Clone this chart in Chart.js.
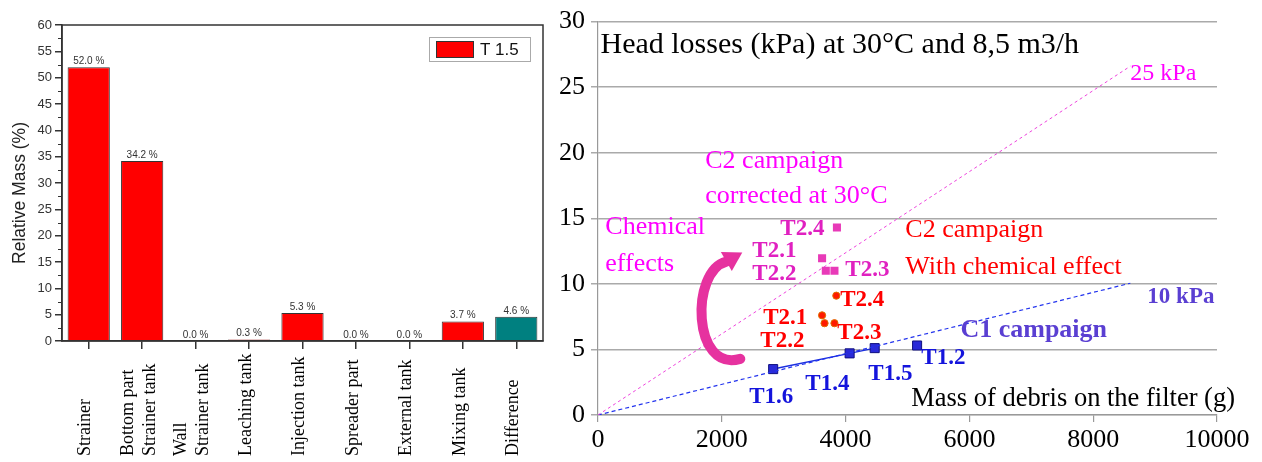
<!DOCTYPE html>
<html>
<head>
<meta charset="utf-8">
<script src="https://cdn.jsdelivr.net/npm/chart.js"></script>
<style>
  html, body { margin: 0; padding: 0; background: #fff; }
  #wrap { position: relative; width: 1262px; height: 462px; overflow: hidden; }
  #left { position: absolute; left: 0; top: 0; }
  #right { position: absolute; left: 550px; top: 0; }
</style>
</head>
<body>
<div id="wrap">
  <canvas id="left" width="550" height="462"></canvas>
  <canvas id="right" width="712" height="462"></canvas>
</div>
<script>
// --- données du panneau de gauche (masse relative par zone) ---
const categories = ['Strainer', ['Bottom part', 'Strainer tank'], ['Wall', 'Strainer tank'], 'Leaching tank',
  'Injection tank', 'Spreader part', 'External tank', 'Mixing tank', 'Difference'];
const relativeMass = [52.0, 34.2, 0.0, 0.3, 5.3, 0.0, 0.0, 3.7, 4.6];
const massTicks = [0, 5, 10, 15, 20, 25, 30, 35, 40, 45, 50, 55, 60];

// --- données du panneau de droite (pertes de charge vs masse de débris) ---
const c1Names = ['T1.6', 'T1.4', 'T1.5', 'T1.2'];
const c1Mass = [2830, 4065, 4470, 5155];
const c1Head = [3.5, 4.7, 5.1, 5.3];

const c2Names = ['T2.1', 'T2.2', 'T2.3', 'T2.4'];
const c2Mass = [3620, 3660, 3820, 3850];
const c2Head = [7.6, 7.0, 7.0, 9.1];

const c2CorrMass = [3620, 3680, 3820, 3860];
const c2CorrHead = [11.95, 11.0, 11.0, 14.3];

const refMass = [0, 8600];
const ref25Head = [0, 26.6];
const ref10Head = [0, 10.05];

const headTicks = [0, 5, 10, 15, 20, 25, 30];
const debrisTicks = [0, 2000, 4000, 6000, 8000, 10000];

const toPoints = (xs, ys) => xs.map((x, i) => ({ x: x, y: ys[i] }));

const SERIF = '"Liberation Serif", "Times New Roman", serif';
const SANS = '"Liberation Sans", Arial, sans-serif';

// ---------- panneau de gauche ----------
const leftDecor = {
  id: 'leftDecor',
  afterDatasetsDraw(chart) {
    const { ctx, chartArea: a, scales: { x, y } } = chart;
    ctx.save();
    ctx.strokeStyle = '#333';
    ctx.lineWidth = 1.5;
    ctx.strokeRect(a.left, a.top, a.right - a.left, a.bottom - a.top);

    // petites graduations
    ctx.lineWidth = 1;
    for (let v = 2.5; v < 60; v += 5) {
      const py = Math.round(y.getPixelForValue(v)) + 0.5;
      ctx.beginPath();
      ctx.moveTo(a.left - 4, py);
      ctx.lineTo(a.left, py);
      ctx.stroke();
    }

    // valeurs au-dessus des barres
    ctx.font = '10px ' + SANS;
    ctx.fillStyle = '#333';
    ctx.textAlign = 'center';
    ctx.textBaseline = 'bottom';
    chart.getDatasetMeta(0).data.forEach((bar, i) => {
      ctx.fillText(relativeMass[i].toFixed(1) + ' %', bar.x, bar.y - 1);
    });

    // étiquettes de catégories, verticales, alignées en bas
    ctx.font = '18px ' + SERIF;
    ctx.fillStyle = '#000';
    ctx.textAlign = 'left';
    ctx.textBaseline = 'middle';
    categories.forEach((lab, i) => {
      const lines = Array.isArray(lab) ? lab : [lab];
      const cx = x.getPixelForValue(i) - 3;
      lines.forEach((ln, k) => {
        const lx = cx + (k - (lines.length - 1) / 2) * 22;
        ctx.save();
        ctx.translate(lx, 456);
        ctx.rotate(-Math.PI / 2);
        ctx.fillText(ln, 0, 0);
        ctx.restore();
      });
    });

    // titre de l'axe y
    ctx.save();
    ctx.font = '17.5px ' + SANS;
    ctx.fillStyle = '#222';
    ctx.textAlign = 'center';
    ctx.translate(20, 193);
    ctx.rotate(-Math.PI / 2);
    ctx.fillText('Relative Mass (%)', 0, 0);
    ctx.restore();

    // légende
    const ds = chart.data.datasets[0];
    const lx = a.right - 114, ly = a.top + 12;
    ctx.strokeStyle = '#aaa';
    ctx.lineWidth = 1;
    ctx.strokeRect(lx + 0.5, ly + 0.5, 101, 24);
    ctx.fillStyle = ds.backgroundColor[0];
    ctx.fillRect(lx + 7, ly + 4, 38, 17);
    ctx.strokeStyle = '#333';
    ctx.strokeRect(lx + 7.5, ly + 4.5, 37, 16);
    ctx.fillStyle = '#111';
    ctx.font = '17px ' + SANS;
    ctx.textAlign = 'left';
    ctx.textBaseline = 'middle';
    ctx.fillText(ds.label, lx + 51, ly + 13);
    ctx.restore();
  }
};

new Chart(document.getElementById('left'), {
  type: 'bar',
  data: {
    labels: categories,
    datasets: [{
      label: 'T 1.5',
      data: relativeMass,
      backgroundColor: relativeMass.map((v, i) => i === relativeMass.length - 1 ? '#008080' : '#ff0000'),
      borderColor: '#333',
      borderWidth: 1,
      barPercentage: 0.79,
      categoryPercentage: 1
    }]
  },
  options: {
    responsive: false,
    animation: false,
    layout: { padding: { top: 25, right: 7, left: 0, bottom: 0 } },
    plugins: { legend: { display: false }, tooltip: { enabled: false } },
    scales: {
      x: {
        grid: { display: true, offset: false, drawOnChartArea: false, tickLength: 8, color: '#333', lineWidth: 1.5 },
        border: { color: '#333', width: 1.5 },
        ticks: { display: false },
        afterFit(scale) { scale.height = 121; }
      },
      y: {
        min: 0, max: 60,
        afterBuildTicks(scale) { scale.ticks = massTicks.map(v => ({ value: v })); },
        grid: { display: true, drawOnChartArea: false, tickLength: 7, color: '#333', lineWidth: 1.5 },
        border: { color: '#333', width: 1.5 },
        ticks: { color: '#333', padding: 3, font: { family: SANS, size: 13 } },
        afterFit(scale) { scale.width = 62; }
      }
    }
  },
  plugins: [leftDecor]
});

// ---------- panneau de droite ----------
const MAG = '#ff00ff', PINK = '#e020c0', RED = '#ff0000', BLUE = '#1414dc', VIOLET = '#5a3fd2';

// textes placés en coordonnées de données (masse g, perte kPa)
const notes = [
  { t: 'Head losses (kPa) at 30°C and 8,5 m3/h', x: 40, y: 28.2, c: '#000', f: '30px ' + SERIF },
  { t: 'Mass of debris on the filter (g)', x: 5060, y: 1.2, c: '#000', f: '26.5px ' + SERIF },
  { t: '25 kPa', x: 8600, y: 26.0, c: MAG, f: '24px ' + SERIF },
  { t: '10 kPa', x: 8875, y: 9.0, c: VIOLET, f: 'bold 23px ' + SERIF },
  { t: 'C1 campaign', x: 5855, y: 6.45, c: VIOLET, f: 'bold 26px ' + SERIF },
  { t: 'C2 campaign', x: 4965, y: 14.1, c: RED, f: '26px ' + SERIF },
  { t: 'With chemical effect', x: 4965, y: 11.25, c: RED, f: '26px ' + SERIF },
  { t: 'C2 campaign', x: 1733, y: 19.35, c: MAG, f: '26px ' + SERIF },
  { t: 'corrected at 30°C', x: 1733, y: 16.65, c: MAG, f: '26px ' + SERIF },
  { t: 'Chemical', x: 118, y: 14.33, c: MAG, f: '26px ' + SERIF },
  { t: 'effects', x: 118, y: 11.48, c: MAG, f: '26px ' + SERIF },
  { t: 'T2.4', x: 2945, y: 14.18, c: PINK, f: 'bold 23px ' + SERIF },
  { t: 'T2.1', x: 2493, y: 12.53, c: PINK, f: 'bold 23px ' + SERIF },
  { t: 'T2.2', x: 2493, y: 10.73, c: PINK, f: 'bold 23px ' + SERIF },
  { t: 'T2.3', x: 3995, y: 11.03, c: PINK, f: 'bold 23px ' + SERIF },
  { t: 'T2.4', x: 3914, y: 8.78, c: RED, f: 'bold 23px ' + SERIF },
  { t: 'T2.1', x: 2670, y: 7.43, c: RED, f: 'bold 23px ' + SERIF },
  { t: 'T2.2', x: 2622, y: 5.63, c: RED, f: 'bold 23px ' + SERIF },
  { t: 'T2.3', x: 3866, y: 6.23, c: RED, f: 'bold 23px ' + SERIF },
  { t: 'T1.6', x: 2444, y: 1.35, c: BLUE, f: 'bold 23px ' + SERIF },
  { t: 'T1.4', x: 3349, y: 2.33, c: BLUE, f: 'bold 23px ' + SERIF },
  { t: 'T1.5', x: 4367, y: 3.15, c: BLUE, f: 'bold 23px ' + SERIF },
  { t: 'T1.2', x: 5223, y: 4.35, c: BLUE, f: 'bold 23px ' + SERIF }
];

// flèche "effets chimiques" (bézier en coordonnées de données)
const arrowPath = { p0: [2299, 4.28], c1: [1523, 3.2], c2: [1491, 11.0], p3: [2073, 11.7], tip: [2331, 12.4] };

const rightDecor = {
  id: 'rightDecor',
  afterDatasetsDraw(chart) {
    const { ctx, scales: { x, y } } = chart;
    const P = p => [x.getPixelForValue(p[0]), y.getPixelForValue(p[1])];
    ctx.save();

    // flèche
    const p0 = P(arrowPath.p0), c1 = P(arrowPath.c1), c2 = P(arrowPath.c2), p3 = P(arrowPath.p3), tip = P(arrowPath.tip);
    ctx.strokeStyle = '#e6329f';
    ctx.fillStyle = '#e6329f';
    ctx.lineCap = 'round';
    ctx.lineWidth = 10;
    ctx.beginPath();
    ctx.moveTo(p0[0], p0[1]);
    ctx.bezierCurveTo(c1[0], c1[1], c2[0], c2[1], p3[0], p3[1]);
    ctx.stroke();
    const dx = tip[0] - p3[0], dy = tip[1] - p3[1], len = Math.hypot(dx, dy);
    const nx = -dy / len, ny = dx / len;
    ctx.beginPath();
    ctx.moveTo(tip[0], tip[1]);
    ctx.lineTo(p3[0] + nx * 11, p3[1] + ny * 11);
    ctx.lineTo(p3[0] - nx * 11, p3[1] - ny * 11);
    ctx.closePath();
    ctx.fill();

    // textes
    ctx.textAlign = 'left';
    ctx.textBaseline = 'middle';
    notes.forEach(n => {
      ctx.font = n.f;
      ctx.fillStyle = n.c;
      ctx.fillText(n.t, x.getPixelForValue(n.x), y.getPixelForValue(n.y));
    });
    ctx.restore();
  }
};

new Chart(document.getElementById('right'), {
  type: 'scatter',
  data: {
    datasets: [
      {
        label: '25 kPa', data: toPoints(refMass, ref25Head), showLine: true,
        borderColor: '#ee44dd', borderWidth: 1, borderDash: [3, 3], pointRadius: 0
      },
      {
        label: '10 kPa', data: toPoints(refMass, ref10Head), showLine: true,
        borderColor: '#2233ee', borderWidth: 1.2, borderDash: [4, 3], pointRadius: 0
      },
      {
        label: 'C1 campaign', data: toPoints(c1Mass, c1Head), showLine: true,
        borderColor: '#1a2ee0', borderWidth: 1.5,
        segment: { borderColor: ctx => ctx.p1DataIndex === c1Mass.length - 1 ? 'rgba(0,0,0,0)' : '#1a2ee0' },
        pointStyle: 'rect', pointRadius: 6.4, pointBackgroundColor: '#2a2ad8', pointBorderColor: '#101080', pointBorderWidth: 1
      },
      {
        label: 'C1 marks', data: toPoints(c1Mass, c1Head),
        pointStyle: 'crossRot', pointRadius: 4, pointBorderColor: '#e07020', pointBorderWidth: 1
      },
      {
        label: 'C2 campaign', data: toPoints(c2Mass, c2Head),
        pointStyle: 'circle', pointRadius: 3.6, pointBackgroundColor: '#ff1a00', pointBorderColor: '#e07000', pointBorderWidth: 1
      },
      {
        label: 'C2 corrected', data: toPoints(c2CorrMass, c2CorrHead),
        pointStyle: 'rect', pointRadius: 5.7, pointBackgroundColor: '#e83ab8', pointBorderColor: '#e83ab8', pointBorderWidth: 0
      }
    ]
  },
  options: {
    responsive: false,
    animation: false,
    layout: { padding: { top: 15, right: 45, left: 0, bottom: 0 } },
    plugins: { legend: { display: false }, tooltip: { enabled: false } },
    scales: {
      x: {
        type: 'linear', min: 0, max: 10000,
        afterBuildTicks(scale) { scale.ticks = debrisTicks.map(v => ({ value: v })); },
        grid: { drawOnChartArea: false, tickLength: 7, color: '#999', lineWidth: 1.2 },
        border: { color: '#999', width: 1.2 },
        ticks: { color: '#000', padding: 3, font: { family: SERIF, size: 26 }, callback: v => String(v) },
        afterFit(scale) { scale.height = 47; }
      },
      y: {
        min: 0, max: 30,
        afterBuildTicks(scale) { scale.ticks = headTicks.map(v => ({ value: v })); },
        grid: { color: '#aaa', lineWidth: 1.5, tickLength: 7 },
        border: { color: '#999', width: 1.2 },
        ticks: { color: '#000', padding: 6, font: { family: SERIF, size: 26 }, callback: v => String(v) },
        afterFit(scale) { scale.width = 48; }
      }
    }
  },
  plugins: [rightDecor]
});
</script>
</body>
</html>
